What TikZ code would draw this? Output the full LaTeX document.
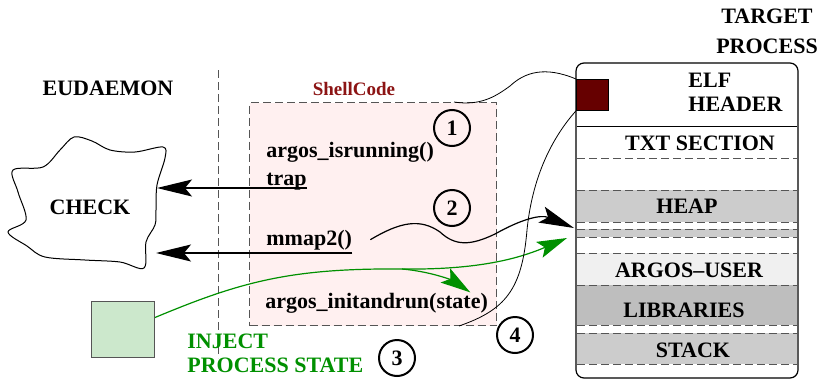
\documentclass[tikz,border=0pt]{standalone}
\usepackage{fontspec}
\setmainfont{Liberation Serif}
\usetikzlibrary{arrows.meta,positioning}
\definecolor{shellred}{RGB}{140,20,20}
\definecolor{shellfill}{RGB}{255,240,240}
\definecolor{elfred}{RGB}{102,0,0}
\definecolor{injgreen}{RGB}{0,144,0}
\definecolor{boxgreen}{RGB}{204,232,204}
\definecolor{heapgray}{RGB}{204,204,204}
\definecolor{libgray}{RGB}{190,190,190}
\definecolor{usergray}{RGB}{240,240,240}
\definecolor{dashgray}{RGB}{85,85,85}
\tikzset{
    lbl/.style={font=\bfseries\fontsize{11}{12}\selectfont, inner sep=0pt, anchor=base},
    code/.style={lbl, anchor=base west},
    stepnum/.style={draw, circle, line width=1pt, minimum size=18pt, inner sep=0pt, font=\bfseries\fontsize{11}{12}\selectfont},
    sep/.style={draw=dashgray, dash pattern=on 4pt off 2pt, line width=0.5pt},
    callarr/.style={-{Stealth[length=17.5pt,width=8.5pt,inset=3.5pt]}, line width=0.6pt},
    injarr/.style={-{Stealth[length=15pt,width=8.5pt,inset=3pt]}, line width=0.6pt, draw=injgreen},
    link/.style={line width=0.4pt}
}

\begin{document}
\begin{tikzpicture}[x=0.5pt,y=-0.5pt]
    \useasboundingbox (0,0) rectangle (823,380);

    % titles
    \node[lbl] (eud) at (108,95) {EUDAEMON};
    \node[lbl] (tgt1) at (767,23) {TARGET};
    \node[lbl] (tgt2) at (767,53) {PROCESS};

    \draw[sep] (218,70) -- (218,358);

    % shellcode
    \node[draw=dashgray, dash pattern=on 4pt off 2pt, line width=0.5pt, fill=shellfill,
          minimum width=123.5pt, minimum height=111.5pt, inner sep=0pt, anchor=north west] (shell) at (249,102) {};
    \node[lbl, font=\bfseries\fontsize{9.5}{11}\selectfont, text=shellred] (shtitle) at (354,95) {ShellCode};
    \node[code] (isrun) at (266,157) {argos\_isrunning()};
    \node[code] (trap) at (266,185) {trap};
    \node[code] (mmap) at (266,245) {mmap2()};
    \node[code] (initrun) at (265,308) {argos\_initandrun(state)};

    % check
    \draw[line width=0.5pt] plot[smooth cycle, tension=0.55] coordinates {(13,170) (43,167) (60,150) (74,137) (92,141) (110,150) (135,152) (163,147) (165,158) (157,185) (156,210) (155,225) (146,242) (144,268) (120,262) (85,260) (45,257) (27,246) (8,232) (26,220) (18,192)};
    \node[lbl] (check) at (90,214) {CHECK};
    \coordinate (chk1) at (157,188);
    \coordinate (chk2) at (156,253);

    % target process
    \fill[heapgray] (577,190) rectangle (797,222);
    \fill[heapgray] (577,229) rectangle (797,237);
    \fill[usergray] (577,253) rectangle (797,285);
    \fill[libgray] (577,285) rectangle (797,325);
    \fill[heapgray] (577,333) rectangle (797,364);
    \foreach \y in {158,190,222,229,237,253,285,325,333,364}
        \draw[sep] (577,\y) -- (797,\y);
    \draw[line width=0.5pt] (577,126) -- (797,126);
    \draw[line width=0.6pt, rounded corners=4pt] (576,63) rectangle (798,378);
    \node[fill=elfred, draw=black, line width=0.4pt, minimum width=16pt, minimum height=15.5pt,
          inner sep=0pt, anchor=north west] (elf) at (576,79) {};
    \node[lbl, anchor=base west] (elf1) at (688,87) {ELF};
    \node[lbl, anchor=base west] (elf2) at (688,111) {HEADER};
    \node[lbl] (txt) at (700,150) {TXT SECTION};
    \node[lbl] (heap) at (687,213) {HEAP};
    \node[lbl] (user) at (689,277) {ARGOS--USER};
    \node[lbl] (libs) at (684,317) {LIBRARIES};
    \node[lbl] (stack) at (693,357) {STACK};
    \coordinate (mmapto) at (574,228);
    \coordinate (userto) at (567,238);

    % inject
    \node[draw=dashgray, fill=boxgreen, line width=0.5pt, minimum width=31.5pt, minimum height=28pt,
          inner sep=0pt, anchor=north west] (inj) at (91,301) {};
    \node[lbl, anchor=base west, text=injgreen] (inj1) at (187,348) {INJECT};
    \node[lbl, anchor=base west, text=injgreen] (inj2) at (187,372) {PROCESS STATE};
    \coordinate (branch) at (402,269);

    % connectors
    \draw[callarr] (trap.base east |- chk1) -- (chk1);
    \draw[callarr] (mmap.base east |- chk2) -- (chk2);
    \draw[callarr] ([xshift=9pt]mmap.east) .. controls (400,222) and (420,218) .. (440,232)
        .. controls (455,246) and (470,246) .. (495,234) .. controls (520,220) and (540,214) .. (mmapto);
    \draw[injarr] ([yshift=6pt]inj.east) .. controls (240,282) and (290,268) .. (branch)
        .. controls (480,270) and (520,258) .. (userto);
    \draw[injarr] (branch) .. controls (435,272) and (455,282) .. ([xshift=-9pt]initrun.north east);
    \draw[link] ([xshift=-21.5pt]shell.north east) .. controls (480,106) and (495,97) .. (510,86)
        .. controls (525,72) and (545,66) .. (elf.north west);
    \draw[link] (elf.south west) .. controls (550,140) and (532,180) .. (527,230)
        .. controls (522,290) and (505,310) .. ([xshift=-19pt]shell.south east);

    % steps
    \node[stepnum] (s1) at (452,128) {1};
    \node[stepnum] (s2) at (452,208) {2};
    \node[stepnum] (s3) at (397,358) {3};
    \node[stepnum] (s4) at (515,335) {4};
\end{tikzpicture}
\end{document}
